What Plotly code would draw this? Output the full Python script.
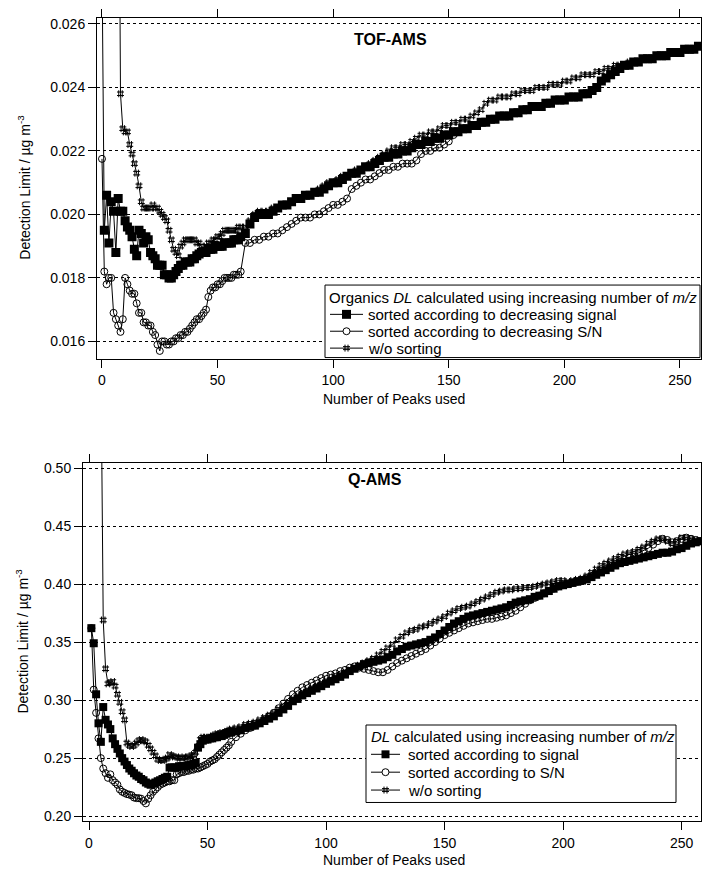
import plotly.graph_objects as go

# ---------------- data: TOF-AMS (top panel) ----------------
tof_x = list(range(0, 61)) + list(range(62, 259, 2))

tof_signal = [
    0.0280, 0.0195, 0.0206, 0.0191, 0.0204, 0.0201, 0.0188, 0.0205, 0.0201, 0.0201,
    0.0198, 0.0196, 0.0195, 0.0193, 0.0189, 0.0187, 0.0195, 0.0194, 0.0191, 0.0193,
    0.0192, 0.0188, 0.0187, 0.0186, 0.0184, 0.0184, 0.0184, 0.0181, 0.0181, 0.0180,
    0.0180, 0.0181, 0.0182, 0.0183, 0.0184, 0.0184, 0.0185, 0.0185, 0.0185, 0.0186,
    0.0186, 0.0187, 0.01875, 0.0188, 0.0188, 0.0188, 0.0189, 0.0189, 0.0189, 0.0190,
    0.0190, 0.0190, 0.0190, 0.0191, 0.0191, 0.0191, 0.0191, 0.0192, 0.0192, 0.0192,
    0.0193,
    0.0194, 0.0197, 0.0199, 0.0200, 0.0200, 0.0200, 0.0201, 0.0202, 0.0203, 0.0203,
    0.0204, 0.0205, 0.0205, 0.0206, 0.0206, 0.0207, 0.0207, 0.0208, 0.0209, 0.0210,
    0.0210, 0.0211, 0.0212, 0.0213, 0.0213, 0.0214, 0.0215, 0.0215, 0.0216, 0.0217,
    0.0218, 0.0218, 0.0219, 0.0219, 0.0220, 0.0220, 0.0221, 0.0222, 0.0222, 0.0223,
    0.0223, 0.0224, 0.0224, 0.0225, 0.0225, 0.0226, 0.0226, 0.0227, 0.0227, 0.0228,
    0.0228, 0.0229, 0.0229, 0.0230, 0.0230, 0.0231, 0.0231, 0.0231, 0.0232, 0.0232,
    0.0233, 0.0233, 0.0234, 0.0234, 0.0234, 0.0235, 0.0235, 0.0236, 0.0236, 0.0236,
    0.0237, 0.0237, 0.0237, 0.0238, 0.0238, 0.0239, 0.0240, 0.0242, 0.0243, 0.0244,
    0.0245, 0.0246, 0.0247, 0.0247, 0.0248, 0.0248, 0.0249, 0.0249, 0.0249, 0.0250,
    0.0250, 0.0250, 0.0251, 0.0251, 0.0251, 0.0252, 0.0252, 0.0252, 0.0253,
]

tof_sn = [
    0.02175, 0.0182, 0.0178, 0.0180, 0.0180, 0.0169, 0.0167, 0.0165, 0.0163, 0.0167,
    0.0180, 0.0178, 0.0176, 0.0175, 0.0175, 0.0172, 0.0169, 0.0169, 0.0166, 0.0166,
    0.0165, 0.0165, 0.0163, 0.0162, 0.0159, 0.0157, 0.0160, 0.0160, 0.0159, 0.0159,
    0.0160, 0.0160, 0.0161, 0.0161, 0.0162, 0.0162, 0.0163, 0.0163, 0.0164, 0.0165,
    0.0166, 0.0167, 0.0167, 0.0168, 0.0169, 0.0170, 0.0174, 0.0176, 0.0177, 0.0177,
    0.0178, 0.0178, 0.0179, 0.0180, 0.0180, 0.0180, 0.0180, 0.0181, 0.0181, 0.0181,
    0.0182,
    0.0191, 0.0191, 0.0192, 0.0192, 0.0193, 0.0193, 0.0194, 0.0194, 0.0195, 0.0196,
    0.0197, 0.0198, 0.0199, 0.0199, 0.0199, 0.0200, 0.0200, 0.0201, 0.0202, 0.0203,
    0.0203, 0.0204, 0.0205, 0.0208, 0.0209, 0.0210, 0.0211, 0.0211, 0.0212, 0.0213,
    0.0214, 0.0214, 0.0215, 0.0215, 0.0216, 0.0216, 0.0216, 0.0217, 0.0219, 0.0220,
    0.0220, 0.0221, 0.0221, 0.0222, 0.0223, 0.0225, 0.0226, 0.0227, 0.0227, 0.0228,
    0.0228, 0.0229, 0.0229, 0.0230, 0.0230, 0.0231, 0.0231, 0.0231, 0.0232, 0.0232,
    0.0233, 0.0233, 0.0234, 0.0234, 0.0234, 0.0235, 0.0235, 0.0236, 0.0236, 0.0236,
    0.0237, 0.0237, 0.0237, 0.0238, 0.0238, 0.0239, 0.0240, 0.0242, 0.0243, 0.0244,
    0.0245, 0.0246, 0.0247, 0.0247, 0.0248, 0.0248, 0.0249, 0.0249, 0.0249, 0.0250,
    0.0250, 0.0250, 0.0251, 0.0251, 0.0251, 0.0252, 0.0252, 0.0252, 0.0253,
]

tof_nosort = [
    0.0400, 0.0400, 0.0390, 0.0380, 0.0380, 0.0370, 0.0370, 0.0360, 0.0238, 0.0227,
    0.0226, 0.0226, 0.0222, 0.0219, 0.0216, 0.0213, 0.0209, 0.0204, 0.0202, 0.0202,
    0.0202, 0.0202, 0.0203, 0.0202, 0.0202, 0.0201, 0.0200, 0.0199, 0.0198, 0.0195,
    0.0192, 0.0189, 0.0188, 0.0187, 0.0190, 0.0191, 0.0192, 0.0192, 0.0192, 0.0192,
    0.0192, 0.0191, 0.0191, 0.0190, 0.0189, 0.0190, 0.0191, 0.0191, 0.0192, 0.0192,
    0.0193, 0.0193, 0.0194, 0.0195, 0.0195, 0.0195, 0.0195, 0.0195, 0.0195, 0.0196,
    0.0196,
    0.0196, 0.0198, 0.0200, 0.0201, 0.0201, 0.0201, 0.0202, 0.0202, 0.0203, 0.0203,
    0.0204, 0.0205, 0.0205, 0.0206, 0.0206, 0.0207, 0.0208, 0.0209, 0.0210, 0.0210,
    0.0211, 0.0212, 0.0212, 0.0213, 0.0214, 0.0214, 0.0215, 0.0216, 0.0217, 0.0218,
    0.0219, 0.0220, 0.0221, 0.0221, 0.0222, 0.0222, 0.0223, 0.0224, 0.0225, 0.0225,
    0.0226, 0.0226, 0.0227, 0.0228, 0.0228, 0.0229, 0.0229, 0.0230, 0.0230, 0.0231,
    0.0232, 0.0233, 0.0235, 0.0236, 0.0236, 0.0237, 0.0237, 0.0237, 0.0238, 0.0238,
    0.0239, 0.0239, 0.0239, 0.0240, 0.0240, 0.0240, 0.0241, 0.0241, 0.0241, 0.0242,
    0.0242, 0.0243, 0.0243, 0.0244, 0.0244, 0.0244, 0.0245, 0.0245, 0.0246, 0.0246,
    0.0247, 0.0247, 0.0247, 0.0248, 0.0248, 0.0248, 0.0249, 0.0249, 0.0249, 0.0250,
    0.0250, 0.0250, 0.0251, 0.0251, 0.0251, 0.0252, 0.0252, 0.0252, 0.0253,
]

# ---------------- data: Q-AMS (bottom panel) ----------------
q_x = list(range(1, 61)) + list(range(62, 259, 2))

q_signal = [
    0.362, 0.349, 0.305, 0.280, 0.264, 0.294, 0.283, 0.279, 0.275, 0.267,
    0.262, 0.258, 0.254, 0.250, 0.247, 0.244, 0.241, 0.239, 0.237, 0.235,
    0.234, 0.232, 0.231, 0.229, 0.228, 0.227, 0.228, 0.229, 0.230, 0.231,
    0.232, 0.233, 0.234, 0.242, 0.242, 0.242, 0.242, 0.243, 0.243, 0.243,
    0.243, 0.244, 0.244, 0.245, 0.246, 0.259, 0.262, 0.265, 0.266, 0.266,
    0.267, 0.267, 0.268, 0.268, 0.269, 0.269, 0.270, 0.271, 0.272, 0.272,
    0.273, 0.274, 0.276, 0.277, 0.278, 0.280, 0.282, 0.284, 0.286, 0.289,
    0.292, 0.295, 0.299, 0.301, 0.304, 0.306, 0.308, 0.310, 0.312, 0.314,
    0.316, 0.318, 0.320, 0.322, 0.325, 0.327, 0.329, 0.331, 0.332, 0.333,
    0.334, 0.335, 0.337, 0.339, 0.342, 0.344, 0.346, 0.347, 0.348, 0.349,
    0.350, 0.352, 0.354, 0.357, 0.360, 0.363, 0.366, 0.368, 0.370, 0.372,
    0.373, 0.374, 0.375, 0.376, 0.377, 0.378, 0.379, 0.380, 0.382, 0.384,
    0.385, 0.386, 0.387, 0.389, 0.390, 0.392, 0.394, 0.396, 0.398, 0.399,
    0.400, 0.401, 0.402, 0.403, 0.404, 0.406, 0.408, 0.410, 0.412, 0.414,
    0.416, 0.418, 0.419, 0.420, 0.421, 0.422, 0.423, 0.424, 0.425, 0.426,
    0.427, 0.427, 0.428, 0.430, 0.431, 0.433, 0.435, 0.436, 0.437,
]

q_sn = [
    0.362, 0.309, 0.289, 0.267, 0.250, 0.241, 0.237, 0.233, 0.236, 0.231,
    0.229, 0.227, 0.223, 0.221, 0.220, 0.219, 0.2185, 0.218, 0.216, 0.2155,
    0.2155, 0.215, 0.213, 0.211, 0.215, 0.218, 0.221, 0.223, 0.225, 0.227,
    0.228, 0.229, 0.230, 0.230, 0.231, 0.231, 0.236, 0.237, 0.238, 0.238,
    0.239, 0.239, 0.240, 0.240, 0.241, 0.241, 0.242, 0.243, 0.244, 0.245,
    0.247, 0.248, 0.249, 0.251, 0.253, 0.255, 0.257, 0.259, 0.261, 0.264,
    0.268, 0.271, 0.274, 0.276, 0.278, 0.280, 0.283, 0.286, 0.289, 0.293,
    0.297, 0.301, 0.305, 0.308, 0.311, 0.313, 0.315, 0.317, 0.319, 0.321,
    0.322, 0.323, 0.325, 0.326, 0.328, 0.329, 0.328, 0.327, 0.326, 0.325,
    0.324, 0.324, 0.326, 0.329, 0.332, 0.334, 0.336, 0.338, 0.340, 0.342,
    0.344, 0.347, 0.350, 0.353, 0.356, 0.358, 0.360, 0.362, 0.364, 0.366,
    0.367, 0.368, 0.369, 0.370, 0.370, 0.371, 0.372, 0.373, 0.375, 0.377,
    0.380, 0.383, 0.386, 0.388, 0.390, 0.392, 0.394, 0.396, 0.398, 0.399,
    0.400, 0.401, 0.402, 0.403, 0.405, 0.407, 0.409, 0.411, 0.413, 0.415,
    0.417, 0.419, 0.421, 0.423, 0.425, 0.427, 0.429, 0.431, 0.434, 0.437,
    0.439, 0.438, 0.436, 0.437, 0.439, 0.440, 0.439, 0.438, 0.437,
]

q_nosort = [
    0.700, 0.680, 0.650, 0.620, 0.600, 0.369, 0.327, 0.314, 0.315, 0.316,
    0.312, 0.305, 0.298, 0.290, 0.283, 0.263, 0.261, 0.260, 0.261, 0.263,
    0.265, 0.266, 0.265, 0.264, 0.261, 0.258, 0.255, 0.252, 0.249, 0.248,
    0.248, 0.249, 0.250, 0.253, 0.252, 0.251, 0.251, 0.250, 0.250, 0.251,
    0.250, 0.251, 0.252, 0.253, 0.255, 0.260, 0.266, 0.268, 0.268, 0.267,
    0.268, 0.269, 0.270, 0.271, 0.271, 0.272, 0.272, 0.273, 0.274, 0.275,
    0.276, 0.277, 0.279, 0.280, 0.281, 0.283, 0.285, 0.287, 0.289, 0.292,
    0.295, 0.298, 0.301, 0.303, 0.306, 0.308, 0.310, 0.312, 0.314, 0.316,
    0.318, 0.320, 0.322, 0.324, 0.326, 0.328, 0.330, 0.332, 0.334, 0.336,
    0.339, 0.342, 0.345, 0.348, 0.352, 0.355, 0.358, 0.360, 0.361, 0.363,
    0.364, 0.366, 0.368, 0.370, 0.372, 0.375, 0.377, 0.379, 0.380, 0.381,
    0.383, 0.385, 0.387, 0.389, 0.391, 0.393, 0.394, 0.395, 0.395, 0.396,
    0.396, 0.397, 0.397, 0.398, 0.399, 0.400, 0.401, 0.402, 0.403, 0.403,
    0.402, 0.403, 0.404, 0.405, 0.407, 0.410, 0.413, 0.416, 0.418, 0.420,
    0.422, 0.424, 0.426, 0.427, 0.428, 0.430, 0.432, 0.435, 0.437, 0.439,
    0.439, 0.437, 0.435, 0.437, 0.440, 0.440, 0.439, 0.438, 0.437,
]

tof_yticks = [0.016, 0.018, 0.020, 0.022, 0.024, 0.026]
q_yticks = [0.20, 0.25, 0.30, 0.35, 0.40, 0.45, 0.50]
x_ticks = [0, 50, 100, 150, 200, 250]

top_title = "Organics <i>DL</i> calculated using increasing number of <i>m/z</i>"
top_names = ["sorted according to decreasing signal",
             "sorted according to decreasing S/N", "w/o sorting"]
bot_title = "<i>DL</i> calculated using increasing number of <i>m/z</i>"
bot_names = ["sorted according to signal", "sorted according to S/N", "w/o sorting"]

for name, arr, xs in [("tof_signal", tof_signal, tof_x), ("tof_sn", tof_sn, tof_x),
                      ("tof_nosort", tof_nosort, tof_x), ("q_signal", q_signal, q_x),
                      ("q_sn", q_sn, q_x), ("q_nosort", q_nosort, q_x)]:
    assert len(arr) == len(xs), (name, len(arr), len(xs))

# ---------------- figure ----------------
W, H = 704, 874
FONT = "Liberation Sans, Arial, Helvetica, sans-serif"


def px(x):
    return x / W


def py(y):
    return 1 - y / H


fig = go.Figure()


def styles(sq):
    return [
        dict(symbol="square", size=sq, color="black", line=dict(width=0)),
        dict(symbol="circle-open", size=7, color="black", line=dict(width=1, color="black")),
        dict(symbol="hash-open", size=7, color="black", line=dict(width=1, color="black")),
    ]


for ys, nm, st in zip([tof_signal, tof_sn, tof_nosort], top_names, styles(9)):
    fig.add_trace(go.Scatter(x=tof_x, y=ys, mode="lines+markers", name=nm,
                             line=dict(color="black", width=1), marker=st,
                             xaxis="x", yaxis="y", showlegend=False))

for ys, nm, st in zip([q_signal, q_sn, q_nosort], bot_names, styles(8)):
    fig.add_trace(go.Scatter(x=q_x, y=ys, mode="lines+markers", name=nm,
                             line=dict(color="black", width=1), marker=st,
                             xaxis="x2", yaxis="y2", showlegend=False))

axis_common = dict(ticks="outside", ticklen=8, tickwidth=1, tickcolor="black",
                   showline=True, linecolor="black", linewidth=1, zeroline=False,
                   tickfont=dict(size=14, color="black", family=FONT))

fig.update_layout(
    width=W, height=H,
    margin=dict(l=0, r=0, t=0, b=0),
    paper_bgcolor="white", plot_bgcolor="white",
    font=dict(family=FONT, color="black"),
    showlegend=False,
    xaxis=dict(domain=[px(97), px(701)], range=[-2.16, 259.1], anchor="y",
               tickvals=x_ticks, mirror="allticks", showgrid=False,
               ticklabelstandoff=1, **axis_common),
    yaxis=dict(domain=[py(358), py(15)], range=[0.01546, 0.02619], anchor="x",
               tickvals=tof_yticks, ticktext=[f"{v:.3f}" for v in tof_yticks],
               mirror=True, showgrid=True, gridcolor="black", griddash="dot",
               gridwidth=1, **axis_common),
    xaxis2=dict(domain=[px(83), px(701)], range=[-2.53, 258.2], anchor="y2",
                tickvals=x_ticks, mirror="allticks", showgrid=False,
                ticklabelstandoff=1, **axis_common),
    yaxis2=dict(domain=[py(824), py(463)], range=[0.1955, 0.5045], anchor="x2",
                tickvals=q_yticks, ticktext=[f"{v:.2f}" for v in q_yticks],
                mirror=True, showgrid=True, gridcolor="black", griddash="dot",
                gridwidth=1, **axis_common),
)

# ---------------- legend boxes (drawn as layout decorations) ----------------
LEG_FONT = dict(size=15, family=FONT, color="black")
shapes = []
annotations = []


def pline(x0, x1, y0, y1):
    return dict(type="line", xref="paper", yref="paper", layer="above",
                x0=px(x0), x1=px(x1), y0=py(y0), y1=py(y1),
                line=dict(color="black", width=1))


def legend_box(x0, x1, y0, y1, title_x, title_y, rows_y, line_x0, line_x1, text_x,
               title, names, sq):
    shapes.append(dict(type="rect", xref="paper", yref="paper", layer="above",
                       x0=px(x0), x1=px(x1), y0=py(y1), y1=py(y0),
                       line=dict(color="black", width=1), fillcolor="white"))
    annotations.append(dict(text=title, x=px(title_x), y=py(title_y),
                            xanchor="left", yanchor="middle", font=LEG_FONT))
    mx = (line_x0 + line_x1) / 2
    for k, (ry, nm) in enumerate(zip(rows_y, names)):
        shapes.append(pline(line_x0, line_x1, ry, ry))
        if k == 0:
            h = sq / 2
            shapes.append(dict(type="rect", xref="paper", yref="paper", layer="above",
                               x0=px(mx - h), x1=px(mx + h), y0=py(ry + h), y1=py(ry - h),
                               line=dict(width=0), fillcolor="black"))
        elif k == 1:
            r = 3.5
            shapes.append(dict(type="circle", xref="paper", yref="paper", layer="above",
                               x0=px(mx - r), x1=px(mx + r), y0=py(ry + r), y1=py(ry - r),
                               line=dict(color="black", width=1), fillcolor="white"))
        else:
            r, o = 3.5, 1.5
            for d in (-o, o):
                shapes.append(pline(mx + d, mx + d, ry + r, ry - r))
                shapes.append(pline(mx - r, mx + r, ry + d, ry + d))
        annotations.append(dict(text=nm, x=px(text_x), y=py(ry), xanchor="left",
                                yanchor="middle", font=LEG_FONT))


legend_box(325, 700, 284, 357, 327, 296.5, [313.5, 330.5, 347.5], 330, 363, 366,
           top_title, top_names, 9)
legend_box(366, 676, 727, 805, 369, 739, [756.5, 774.5, 792.5], 371, 400, 406,
           bot_title, bot_names, 8)

ann_font = dict(size=14, family=FONT, color="black")
annotations += [
    dict(text="<b>TOF-AMS</b>", x=px(390), y=py(37), font=dict(size=16, family=FONT, color="black")),
    dict(text="<b>Q-AMS</b>", x=px(375), y=py(480), font=dict(size=16, family=FONT, color="black")),
    dict(text="Number of Peaks used", x=px(394), y=py(399), font=ann_font),
    dict(text="Number of Peaks used", x=px(394), y=py(863), font=ann_font),
    dict(text="Detection Limit / µg m<sup>-3</sup>", x=px(24), y=py(186), textangle=-90, font=ann_font),
    dict(text="Detection Limit / µg m<sup>-3</sup>", x=px(22), y=py(643), textangle=-90, font=ann_font),
]

fig.update_layout(shapes=shapes)
for a in annotations:
    a.setdefault("xanchor", "center")
    a.setdefault("yanchor", "middle")
    fig.add_annotation(xref="paper", yref="paper", showarrow=False, **a)

fig.write_html("out.html", config={"displayModeBar": False},
               post_script="document.body.style.margin='0px';")
